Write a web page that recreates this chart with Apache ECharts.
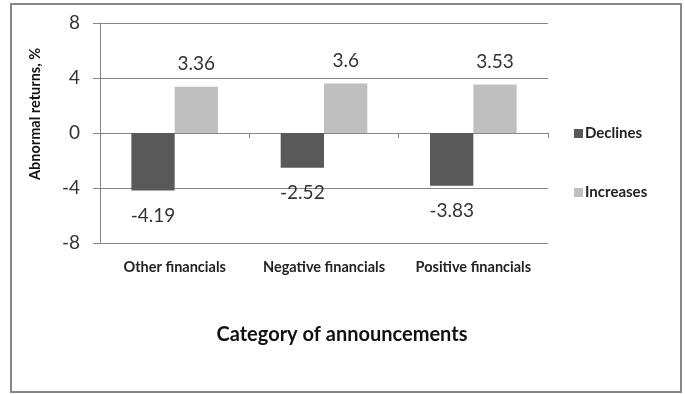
<!DOCTYPE html>
<html>
<head>
<meta charset="utf-8">
<script src="https://cdn.jsdelivr.net/npm/echarts@6/dist/echarts.min.js"></script>
<style>
  html, body { margin: 0; padding: 0; background: #fff; }
  #chart { width: 685px; height: 394px; }
</style>
</head>
<body>
<div id="chart"></div>
<script>
  const categories = ['Other financials', 'Negative financials', 'Positive financials']
  const declines = [-4.19, -2.52, -3.83]
  const increases = [3.36, 3.6, 3.53]
  const yTicks = [-8, -4, 0, 4, 8]

  const font = 'Lato, "Open Sans", sans-serif'
  const chart = echarts.init(document.getElementById('chart'), null, { renderer: 'canvas' })

  // labels sit above positive bars, below negative ones
  const barLabel = {
    show: true,
    fontFamily: font,
    fontSize: 19,
    color: '#333',
    formatter: p => String(p.value)
  }

  chart.setOption({
    animation: false,
    backgroundColor: '#fff',
    grid: { left: 100, right: 137, top: 23, bottom: 151 },
    legend: {
      orient: 'vertical',
      left: 569,
      top: 121,
      itemWidth: 9,
      itemHeight: 9,
      itemGap: 44,
      icon: 'rect',
      textStyle: { fontFamily: font, fontSize: 15, fontWeight: 'bold', color: '#222', padding: [0, 0, 0, -3] },
      data: ['Declines', 'Increases']
    },
    xAxis: [{
      type: 'category',
      data: categories,
      axisLine: { onZero: true, lineStyle: { color: '#868686', width: 1 } },
      axisTick: { show: true, length: 5, lineStyle: { color: '#868686' } },
      axisLabel: { show: false }
    }, {
      type: 'category',
      data: categories,
      position: 'bottom',
      axisLine: { show: false, onZero: false },
      axisTick: { show: false },
      axisLabel: {
        interval: 0,
        hideOverlap: false,
        fontFamily: font,
        fontSize: 14.5,
        fontWeight: 'bold',
        color: '#222',
        margin: 17
      }
    }],
    yAxis: {
      type: 'value',
      min: yTicks[0],
      max: yTicks[yTicks.length - 1],
      interval: 4,
      axisLine: { show: true, lineStyle: { color: '#868686' } },
      axisTick: { show: true, length: 7, lineStyle: { color: '#868686' } },
      axisLabel: { fontFamily: font, fontSize: 19, color: '#333', margin: 20 },
      splitLine: { lineStyle: { color: '#868686', width: 1 } }
    },
    series: [{
      name: 'Declines',
      type: 'bar',
      data: declines,
      barGap: 0,
      barCategoryGap: '42%',
      itemStyle: { color: '#595959' },
      label: Object.assign({ position: 'bottom', distance: 16 }, barLabel)
    }, {
      name: 'Increases',
      type: 'bar',
      data: increases,
      itemStyle: { color: '#bfbfbf' },
      label: Object.assign({ position: 'top', distance: 13 }, barLabel)
    }],
    graphic: [{
      type: 'rect',
      shape: { x: 11, y: 4, width: 670, height: 388 },
      style: { fill: 'none', stroke: '#888', lineWidth: 2 },
      silent: true
    }, {
      type: 'text',
      x: 35,
      y: 114,
      rotation: Math.PI / 2,
      style: {
        text: 'Abnormal returns, %',
        fontFamily: font,
        fontSize: 14.5,
        fontWeight: 'bold',
        fill: '#111',
        align: 'center',
        verticalAlign: 'middle'
      }
    }, {
      type: 'text',
      x: 342,
      y: 335,
      style: {
        text: 'Category of announcements',
        fontFamily: font,
        fontSize: 20,
        fontWeight: 'bold',
        fill: '#111',
        align: 'center',
        verticalAlign: 'middle'
      }
    }]
  })
</script>
</body>
</html>
